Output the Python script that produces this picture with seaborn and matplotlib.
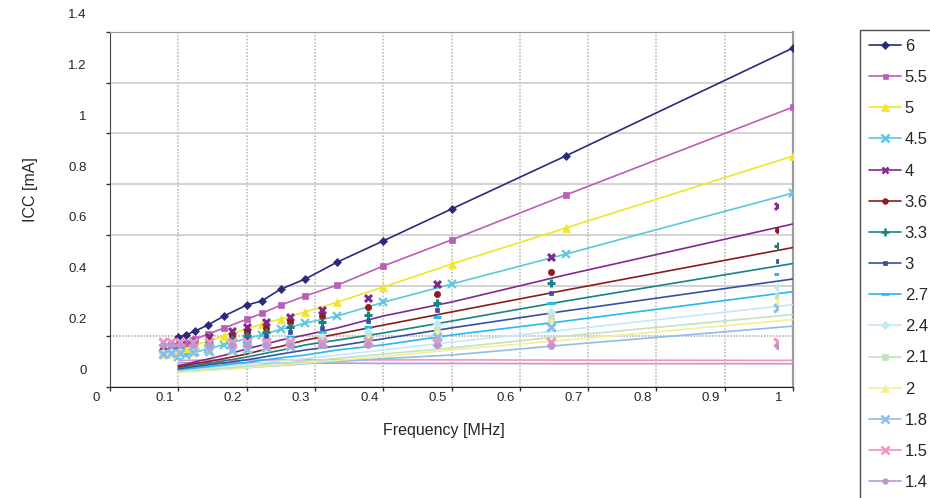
import matplotlib.pyplot as plt
from matplotlib.lines import Line2D
from matplotlib.transforms import ScaledTranslation
import seaborn as sns
import pandas as pd

# frequency points [MHz]
freq = [0.1, 0.111, 0.125, 0.143, 0.167, 0.2, 0.222, 0.25, 0.286, 0.333, 0.4, 0.5, 0.667, 1.0]

# supply voltages (legend order)
vdd = ['6', '5.5', '5', '4.5', '4', '3.6', '3.3', '3', '2.7', '2.4', '2.1', '2', '1.8', '1.5', '1.4']

# ICC [mA] per supply voltage
icc_6 = [0.197, 0.205, 0.221, 0.244, 0.280, 0.323, 0.339, 0.386, 0.426, 0.493, 0.576, 0.702, 0.911, 1.337]
icc_55 = [0.163, 0.174, 0.189, 0.208, 0.233, 0.267, 0.290, 0.323, 0.359, 0.402, 0.477, 0.580, 0.757, 1.104]
icc_5 = [0.144, 0.154, 0.166, 0.181, 0.201, 0.229, 0.248, 0.268, 0.296, 0.335, 0.394, 0.485, 0.627, 0.911]
icc_45 = [0.119, 0.127, 0.137, 0.150, 0.167, 0.191, 0.206, 0.227, 0.252, 0.280, 0.334, 0.406, 0.524, 0.765]
icc_4 = [0.085, 0.090, 0.100, 0.110, 0.125, 0.150, 0.165, 0.185, 0.205, 0.233, 0.280, 0.335, 0.442, 0.643]
icc_36 = [0.080, 0.085, 0.093, 0.100, 0.112, 0.130, 0.145, 0.160, 0.185, 0.209, 0.244, 0.296, 0.382, 0.550]
icc_33 = [0.075, 0.080, 0.086, 0.093, 0.103, 0.118, 0.130, 0.145, 0.166, 0.185, 0.213, 0.260, 0.339, 0.487]
icc_3 = [0.072, 0.076, 0.081, 0.087, 0.095, 0.107, 0.117, 0.130, 0.146, 0.162, 0.190, 0.233, 0.300, 0.426]
icc_27 = [0.068, 0.071, 0.075, 0.080, 0.087, 0.097, 0.105, 0.115, 0.126, 0.146, 0.166, 0.205, 0.260, 0.376]
icc_24 = [0.065, 0.068, 0.071, 0.075, 0.081, 0.089, 0.095, 0.103, 0.112, 0.126, 0.146, 0.177, 0.225, 0.325]
icc_21 = [0.062, 0.064, 0.067, 0.070, 0.075, 0.082, 0.087, 0.094, 0.102, 0.113, 0.130, 0.154, 0.201, 0.286]
icc_2 = [0.058, 0.060, 0.063, 0.066, 0.070, 0.076, 0.081, 0.087, 0.095, 0.105, 0.120, 0.146, 0.185, 0.266]
icc_18 = [0.060, 0.062, 0.064, 0.067, 0.071, 0.076, 0.080, 0.085, 0.092, 0.100, 0.112, 0.126, 0.166, 0.240]
icc_15 = [0.105, 0.105, 0.106, 0.106, 0.106, 0.106, 0.107, 0.107, 0.107, 0.107, 0.107, 0.107, 0.106, 0.105]
icc_14 = [0.096, 0.096, 0.095, 0.095, 0.095, 0.095, 0.094, 0.094, 0.094, 0.094, 0.093, 0.093, 0.092, 0.092]

icc = [icc_6, icc_55, icc_5, icc_45, icc_4, icc_36, icc_33, icc_3, icc_27,
       icc_24, icc_21, icc_2, icc_18, icc_15, icc_14]

colors = ['#2b2a7a', '#bb5fb6', '#f2e52a', '#5bc8de', '#7f2a8c', '#8c1c1e', '#168483', '#3650a4',
          '#27b8ef', '#c4e8f4', '#c2e3bd', '#f3ef96', '#8fbde9', '#f294c0', '#b79ad4']
markers = ['D', 's', '^', 'x', 'x', 'o', '+', 's', '_', 'D', 's', '^', 'x', 'x', 'o']
msizes = [4, 4, 6, 6, 5, 4.5, 6, 3.5, 6, 4.5, 4.5, 6, 6, 6, 4.5]

rows = []
for v, vals in zip(vdd, icc):
    for f, i in zip(freq, vals):
        rows.append({'freq': f, 'icc': i, 'vdd': v})
df = pd.DataFrame(rows)

sns.set_style('white')
plt.rcParams['font.family'] = ['Liberation Sans', 'DejaVu Sans']

W, H = 930, 498
fig = plt.figure(figsize=(W / 100, H / 100), dpi=100)
ax = fig.add_axes([110 / W, 1 - 387 / H, 683 / W, 355 / H])
# second, slightly shifted copy of the chart (markers only), as in the original
ax2 = fig.add_axes([95 / W, 1 - 369 / H, 683 / W, 355 / H], frameon=False)

for k, v in enumerate(vdd):
    d = df[df['vdd'] == v]
    if k < 4:
        sns.lineplot(data=d, x='freq', y='icc', ax=ax, color=colors[k], lw=1.2,
                     marker=markers[k], markersize=msizes[k], markeredgecolor=colors[k],
                     markeredgewidth=1.5 if markers[k] == 'x' else 0.5, zorder=5 - k * 0.1)
    else:
        sns.lineplot(data=d, x='freq', y='icc', ax=ax, color=colors[k], lw=1.2, zorder=4 - k * 0.1)
        mk = markers[k]
        unfilled = mk in ('x', '+', '_')
        sns.scatterplot(data=d, x='freq', y='icc', ax=ax2, color=colors[k], marker=mk,
                        s=msizes[k] ** 2, linewidth=2.2 if unfilled else 0.5,
                        edgecolor=None if unfilled else colors[k], zorder=5)

for a in (ax, ax2):
    a.set_xlim(0, 1)
    a.set_ylim(0, 1.4)
    a.set_xlabel('')
    a.set_ylabel('')
ax2.set_axis_off()

ax.set_xticks([i / 10 for i in range(11)])
ax.set_xticklabels(['0', '0.1', '0.2', '0.3', '0.4', '0.5', '0.6', '0.7', '0.8', '0.9', '1'])
ax.set_yticks([i / 5 for i in range(8)])
ax.set_yticklabels(['0', '0.2', '0.4', '0.6', '0.8', '1', '1.2', '1.4'])
ax.tick_params(axis='x', direction='out', length=3, width=1, pad=0.5, labelsize=9.5,
               color='#333333', bottom=True)
ax.tick_params(axis='y', direction='out', length=3, width=1, pad=14, labelsize=9.5,
               color='#333333', left=True)

ax.grid(axis='x', color='#bdbdbd', lw=1.2, ls=(0, (1, 1)))
ax.grid(axis='y', color='#c8c8c8', lw=1.1)
ax.get_ygridlines()[1].set_linestyle((0, (1, 1)))
ax.get_ygridlines()[1].set_color('#a8a8a8')
ax.set_axisbelow(True)

ax.spines['left'].set_color('#444444')
ax.spines['bottom'].set_color('#222222')
ax.spines['top'].set_color('#9a9a9a')
ax.spines['right'].set_color('#9a9a9a')
ax.spines['right'].set_linewidth(1.6)

# tick labels sit offset from their ticks in the original
offx = ScaledTranslation(-14 / 100, 0, fig.dpi_scale_trans)
offy = ScaledTranslation(0, 18 / 100, fig.dpi_scale_trans)
for lab in ax.get_xticklabels():
    lab.set_transform(lab.get_transform() + offx)
for lab in ax.get_yticklabels():
    lab.set_transform(lab.get_transform() + offy)

fig.text(444 / W, 1 - 430 / H, 'Frequency [MHz]', ha='center', va='center', fontsize=11.5)
fig.text(30 / W, 1 - 190 / H, 'ICC [mA]', ha='center', va='center', rotation=90, fontsize=11.5)

handles = []
for k, v in enumerate(vdd):
    handles.append(Line2D([], [], color=colors[k], lw=1.2, marker=markers[k],
                          markersize=msizes[k] * 0.9, markeredgecolor=colors[k],
                          markeredgewidth=1.8 if markers[k] in ('x', '+', '_') else 0.5))
leg = fig.legend(handles, vdd, loc='upper left', bbox_to_anchor=(860 / W, 1 - 30 / H),
                 borderaxespad=0, frameon=True, fancybox=False, fontsize=12,
                 handlelength=1.9, handletextpad=0.25, labelspacing=0.97, borderpad=0.53)
leg.get_frame().set_edgecolor('#222222')
leg.get_frame().set_linewidth(1.0)

fig.savefig('out.png', dpi=100)
